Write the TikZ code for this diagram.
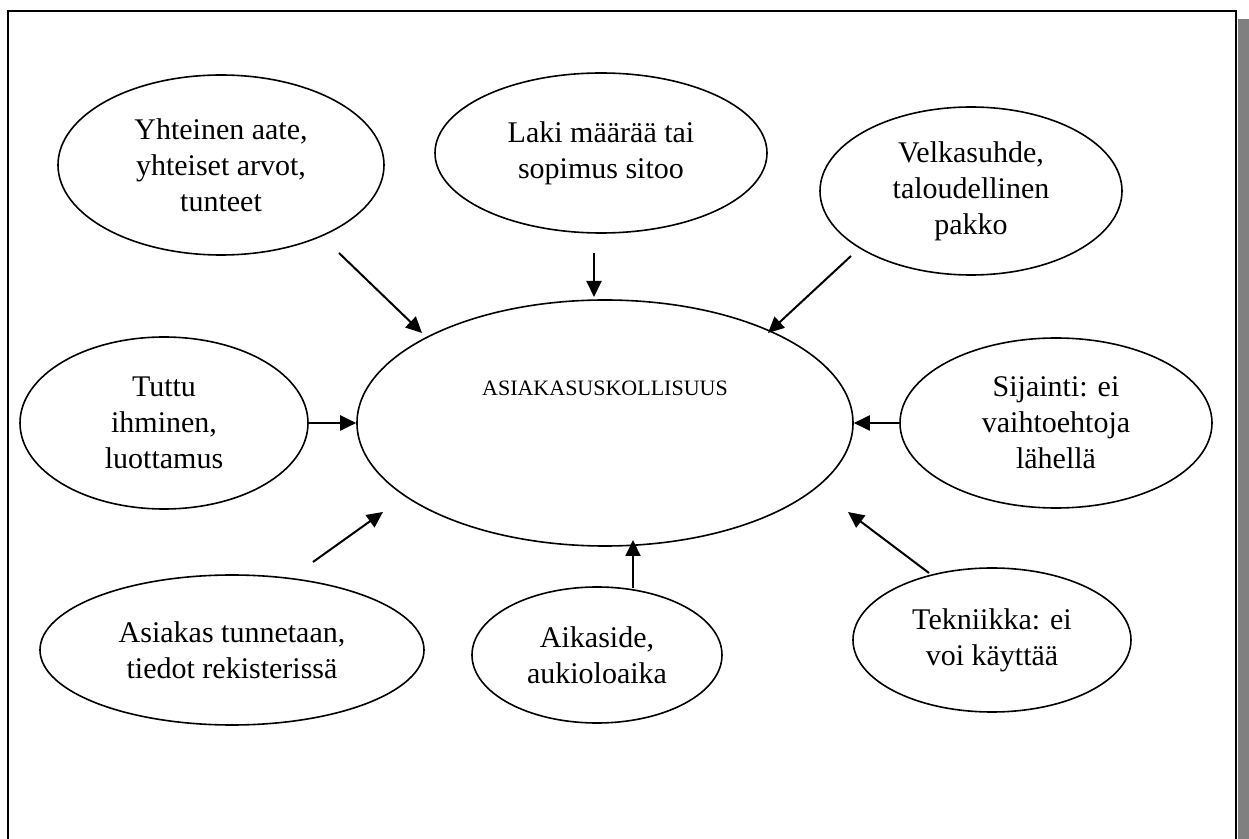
\documentclass[tikz,border=0pt]{standalone}
\usepackage{fontspec}
\setmainfont{Liberation Serif}
\usetikzlibrary{arrows.meta,shapes.geometric}
\definecolor{shadowgray}{HTML}{808080}
\definecolor{inkblack}{HTML}{000000}

\tikzset{
  bubble/.style={draw=inkblack,ellipse,line width=0.8pt,align=center,inner sep=0pt,
    font=\fontsize{15}{18}\selectfont},
  push/.style={-{Triangle[length=8pt,width=7.5pt]},line width=1pt,inkblack},
}

\begin{document}
\begin{tikzpicture}[x=0.5pt,y=-0.5pt]
  \useasboundingbox (0,0) rectangle (1249,839);

  % ===== Frame with shadow =====
  \fill[shadowgray] (1238,19) rectangle (1252,845);
  \draw[line width=1.2pt] (8,845) -- (8,11) -- (1236,11) -- (1236,845);

  % ===== Centre =====
  \node[bubble,minimum width=248pt,minimum height=123pt] (asiak) at (605,423) {};
  \node[font=\fontsize{11}{13}\selectfont] (asiaktxt) at (605,388) {ASIAKASUSKOLLISUUS};

  % ===== Top row =====
  \node[bubble,minimum width=163pt,minimum height=90pt] (yht) at (221,165)
    {Yhteinen aate,\\yhteiset arvot,\\tunteet};
  \node[bubble,minimum width=166pt,minimum height=80pt] (laki) at (601,153)
    {Laki määrää tai\\sopimus sitoo};
  \node[bubble,minimum width=151pt,minimum height=84pt] (velka) at (971,191)
    {Velkasuhde,\\taloudellinen\\pakko};

  % ===== Middle row =====
  \node[bubble,minimum width=144pt,minimum height=86pt] (tuttu) at (164,423)
    {Tuttu\\ihminen,\\luottamus};
  \node[bubble,minimum width=156pt,minimum height=85pt] (sij) at (1056,423)
    {Sijainti: ei\\vaihtoehtoja\\lähellä};

  % ===== Bottom row =====
  \node[bubble,minimum width=192pt,minimum height=75pt] (tunn) at (232,650)
    {Asiakas tunnetaan,\\tiedot rekisterissä};
  \node[bubble,minimum width=125pt,minimum height=68pt] (aika) at (597,655)
    {Aikaside,\\aukioloaika};
  \node[bubble,minimum width=139pt,minimum height=72pt] (tekn) at (992,640)
    {Tekniikka: ei\\voi käyttää};

  % Arrow ends (free)
  \coordinate (yht-out) at (339,253);   \coordinate (asiak-nw) at (422,333);
  \coordinate (laki-out) at (594,253);  \coordinate (asiak-n) at (594,297);
  \coordinate (velka-out) at (851,256); \coordinate (asiak-ne) at (768,333);
  \coordinate (tunn-out) at (313,562);  \coordinate (asiak-sw) at (383,512);
  \coordinate (aika-out) at (633,588);  \coordinate (asiak-s) at (633,540);
  \coordinate (tekn-out) at (929,573);  \coordinate (asiak-se) at (848,512);

  % Arrows
  \draw[push] (yht-out) -- (asiak-nw);
  \draw[push] (laki-out) -- (asiak-n);
  \draw[push] (velka-out) -- (asiak-ne);
  \draw[push] (tuttu) -- (asiak);
  \draw[push] (sij) -- (asiak);
  \draw[push] (tunn-out) -- (asiak-sw);
  \draw[push] (aika-out) -- (asiak-s);
  \draw[push] (tekn-out) -- (asiak-se);

\end{tikzpicture}
\end{document}
